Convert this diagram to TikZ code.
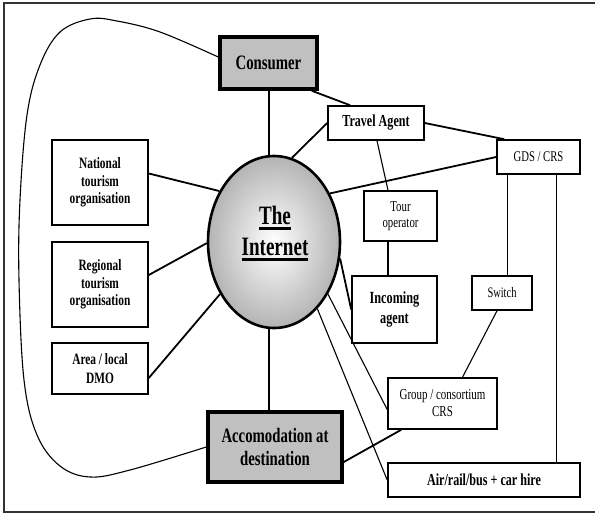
\documentclass[tikz,border=0pt]{standalone}
\usepackage{fontspec}
\setmainfont{Liberation Serif}[FakeStretch=0.72]
\usetikzlibrary{shapes.geometric}
\definecolor{boxgray}{RGB}{192,192,192}
\definecolor{ringgray}{RGB}{180,180,180}
\newcommand\fs[2]{\fontsize{#1}{#2}\selectfont}
\newcommand\ulbar[1]{\setbox0\hbox{#1}\rlap{\raisebox{-5pt}{\rule{\wd0}{2.2pt}}}\box0}
\begin{document}
\begin{tikzpicture}[x=1pt,y=-1pt,
  box/.style={draw,line width=1.6pt,fill=white,inner sep=0pt,align=center},
  keybox/.style={draw,line width=3.5pt,fill=boxgray,inner sep=0pt,align=center},
  link/.style={line width=1.8pt},
  spine/.style={line width=2.2pt},
  thinlink/.style={line width=1.1pt},
  frameline/.style={line width=1.6pt,draw=black!80}]
\useasboundingbox (0,0) rectangle (595,515);
\draw[frameline] (598,3) -- (4,3) -- (4,512) -- (598,512);

% nodes
\node[ellipse,draw,line width=2.6pt,inner color=white,outer color=ringgray,
      minimum width=132,minimum height=172,inner sep=0pt] (inet) at (274,242) {};
\node[font=\fs{26.5}{31}\bfseries,align=center,inner sep=0pt] (inettxt) at (275,233.5)
      {\ulbar{The}\\\ulbar{Internet}};
\node[keybox,minimum width=97,minimum height=52,font=\fs{20.5}{23}\bfseries] (cons) at (268.5,63) {Consumer};
\node[keybox,minimum width=134,minimum height=70,font=\fs{20.5}{23}\bfseries] (acc) at (275,447) {Accomodation at\\destination};
\node[box,minimum width=96,minimum height=34,font=\fs{16.8}{19}\bfseries] (ta) at (376,123) {Travel Agent};
\node[box,minimum width=83,minimum height=34,font=\fs{14.8}{17}] (gds) at (538.5,157) {GDS / CRS};
\node[box,minimum width=73,minimum height=50,font=\fs{15}{16}] (tour) at (400.5,216) {Tour\\operator};
\node[box,minimum width=85,minimum height=67,font=\fs{17}{20}\bfseries] (inc) at (394.5,309.5) {Incoming\\agent};
\node[box,minimum width=60,minimum height=34,font=\fs{14.5}{17}] (sw) at (502,293) {Switch};
\node[box,minimum width=109,minimum height=51,font=\fs{15.2}{17}] (grp) at (442.5,403.5) {Group / consortium\\CRS};
\node[box,minimum width=192,minimum height=34,font=\fs{16.8}{19}\bfseries] (air) at (484,480) {Air/rail/bus + car hire};
\node[box,minimum width=96,minimum height=85,font=\fs{15.8}{17.5}\bfseries] (nat) at (100,182.5) {National\\tourism\\organisation};
\node[box,minimum width=96,minimum height=85,font=\fs{15.8}{17.5}\bfseries] (reg) at (100,284.5) {Regional\\tourism\\organisation};
\node[box,minimum width=96,minimum height=51,font=\fs{15.8}{19}\bfseries] (dmo) at (100,368.5) {Area / local\\DMO};

% connectors
\draw[spine] ([xshift=0.5pt]cons.south) -- ([xshift=0.5pt]cons.south |- inet.north);
\draw[spine] ([xshift=0.5pt]acc.north -| cons.south) -- ([xshift=0.5pt]cons.south |- inet.south);
\draw[link] ([xshift=-7pt]cons.south east) -- ([xshift=-26pt]ta.north);
\draw[link] (ta.west) -- (inet.78);
\draw[link] (ta.east) -- ([xshift=8pt]gds.north west);
\draw[thinlink] ([xshift=1pt]ta.south) -- ([xshift=-12.5pt]tour.north);
\draw[link] (gds.west) -- (inet.41);
\draw[thinlink] ([xshift=11pt]gds.south west) -- ([xshift=11pt]gds.south west |- sw.north);
\draw[thinlink] ([xshift=-24pt]gds.south east) -- ([xshift=-24pt]gds.south east |- air.north);
\draw[link] ([xshift=-12.5pt]tour.south) -- ([xshift=-12.5pt]tour.south |- inc.north);
\draw[thinlink] ([xshift=-5pt]sw.south) -- ([xshift=20pt]grp.north);
\draw[link] (inet.-14) -- (inc.west);
\draw[thinlink] (inet.-44) -- ([yshift=-6pt]grp.west);
\draw[thinlink] (inet.-57) -- (air.west);
\draw[link] ([xshift=14pt]grp.south west) -- ([yshift=-15pt]acc.east);
\draw[link] ([yshift=9pt]nat.east) -- (inet.137);
\draw[link] ([yshift=9.5pt]reg.east) -- (inet.181);
\draw[link] ([yshift=-9.5pt]dmo.east) -- (inet.224);

% loop from Consumer round to Accommodation
\coordinate (loopstart) at ([yshift=6pt]cons.west);
\draw[thinlink] plot[smooth,tension=0.6] coordinates {(loopstart) (160,32) (117,21) (90,19) (60,32) (40,65) (27,115) (20,200) (19,280) (24,380) (37,435) (60,466) (90,477) (130,470) (acc.west)};
\end{tikzpicture}
\end{document}
